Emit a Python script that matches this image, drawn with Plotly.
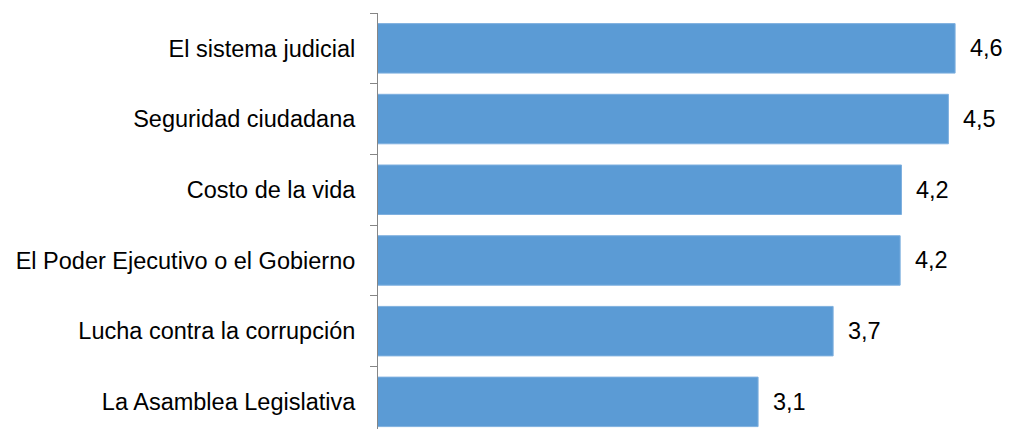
import plotly.graph_objects as go

categories = [
    "El sistema judicial",
    "Seguridad ciudadana",
    "Costo de la vida",
    "El Poder Ejecutivo o el Gobierno",
    "Lucha contra la corrupción",
    "La Asamblea Legislativa",
]
values = [4.59, 4.54, 4.19, 4.18, 3.68, 3.12]
value_labels = ["4,6", "4,5", "4,2", "4,2", "3,7", "3,1"]

BAR = "#5B9BD5"
FONT = "Liberation Sans, Arial, sans-serif"
FS = 23.5

fig = go.Figure()
fig.add_trace(go.Bar(
    y=categories,
    x=values,
    orientation="h",
    marker=dict(color=BAR, line=dict(color="#7FB0DF", width=1)),
    width=0.7,
    hoverinfo="skip",
))

for c, v, t in zip(categories, values, value_labels):
    fig.add_annotation(
        x=v, y=c, text=t, showarrow=False,
        xanchor="left", yanchor="middle", xshift=13,
        font=dict(family=FONT, size=FS, color="#000000"),
    )

fig.update_layout(
    width=1002, height=421,
    margin=dict(l=370, r=10, t=5, b=0),
    paper_bgcolor="white", plot_bgcolor="white",
    showlegend=False,
    font=dict(family=FONT, size=FS, color="#000000"),
)
fig.update_xaxes(
    range=[0.284, 4.925],
    showgrid=False, zeroline=False, showline=False,
    showticklabels=False, ticks="",
)
fig.update_yaxes(
    type="category",
    categoryorder="array", categoryarray=categories,
    range=[5.384, -0.5],
    showgrid=False, zeroline=False,
    showline=True, linecolor="#868686", linewidth=1,
    ticks="outside", tickson="boundaries", ticklen=7, tickcolor="#868686",
    ticklabelstandoff=17,
    tickfont=dict(family=FONT, size=FS, color="#000000"),
)

fig.write_html("out.html")
